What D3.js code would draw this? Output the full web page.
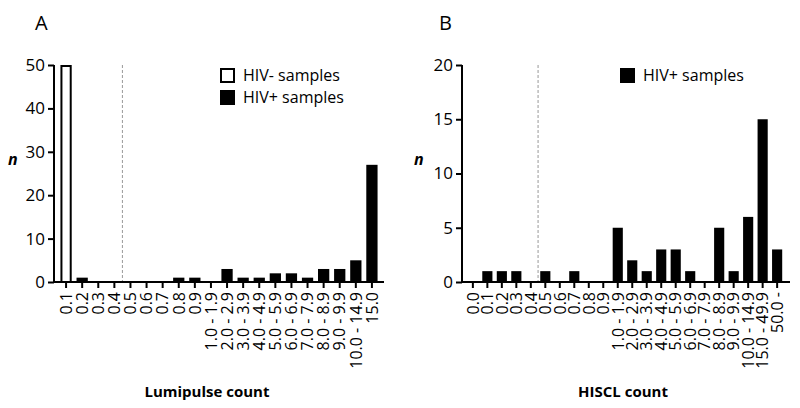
<!DOCTYPE html>
<html>
<head>
<meta charset="utf-8">
<script src="https://cdn.jsdelivr.net/npm/d3@7/dist/d3.min.js"></script>
<style>
  html, body { margin: 0; padding: 0; background: #fff; }
  svg { display: block; font-family: "Open Sans", sans-serif; }
  .tick text { white-space: pre; }
</style>
</head>
<body>
<svg id="chart" width="800" height="408"></svg>
<script>
// ---- Data ----
const catsA = ["0.1","0.2","0.3","0.4","0.5","0.6","0.7","0.8","0.9",
  "1.0 - 1.9","2.0 - 2.9","3.0 - 3.9","4.0 - 4.9","5.0 - 5.9","6.0 - 6.9",
  "7.0 - 7.9","8.0 - 8.9","9.0 - 9.9","10.0 - 14.9","15.0"];
const hivNegA = [50,0,0,0,0,0,0,0,0,0,0,0,0,0,0,0,0,0,0,0];
const hivPosA = [0,1,0,0,0,0,0,1,1,0,3,1,1,2,2,1,3,3,5,27];
const yTicksA = [0,10,20,30,40,50];

const catsB = ["0.0","0.1","0.2","0.3","0.4","0.5","0.6","0.7","0.8","0.9",
  "1.0 - 1.9","2.0 - 2.9","3.0 - 3.9","4.0 - 4.9","5.0 - 5.9","6.0 - 6.9",
  "7.0 - 7.9","8.0 - 8.9","9.0 - 9.9","10.0 - 14.9","15.0 - 49.9","50.0 -"];
const hivPosB = [0,1,1,1,0,1,0,1,0,0,5,2,1,3,3,1,0,5,1,6,15,3];
const yTicksB = [0,5,10,15,20];

const svg = d3.select("#chart");

function panel(opts) {
  const g = svg.append("g");
  const x = d3.scaleBand().domain(opts.cats).range(opts.xRange)
    .paddingInner(opts.pi).paddingOuter(opts.po);
  const y = d3.scaleLinear().domain([0, opts.yMax]).range([282, 65]);

  // dashed cutoff line between categories
  const c1 = x(opts.cutBetween[0]) + x.bandwidth()/2;
  const c2 = x(opts.cutBetween[1]) + x.bandwidth()/2;
  g.append("line")
    .attr("x1", (c1+c2)/2).attr("x2", (c1+c2)/2)
    .attr("y1", y(opts.yMax)).attr("y2", y(0))
    .attr("stroke", "#999").attr("stroke-width", 1)
    .attr("stroke-dasharray", "3,2");

  // bars
  opts.series.forEach(s => {
    const data = opts.cats.map((c, i) => ({c, v: s.values[i]})).filter(d => d.v > 0);
    g.selectAll(null).data(data).enter().append("rect")
      .attr("x", d => x(d.c) + (s.outline ? 1 : 0))
      .attr("width", x.bandwidth() - (s.outline ? 2 : 0))
      .attr("y", d => y(d.v) + (s.outline ? 1 : 0))
      .attr("height", d => y(0) - y(d.v) - (s.outline ? 1 : 0))
      .attr("fill", s.fill)
      .attr("stroke", s.outline ? "#000" : "none")
      .attr("stroke-width", s.outline ? 2 : 0);
  });

  // y axis
  const yAx = g.append("g").attr("transform", `translate(${opts.xRange[0]},0)`)
    .call(d3.axisLeft(y).tickValues(opts.yTicks).tickSize(6).tickSizeOuter(0).tickPadding(3));
  yAx.select(".domain").attr("stroke-width", 2).attr("d", `M0,${y(opts.yMax)}V${y(0)}`);
  yAx.selectAll(".tick line").attr("stroke-width", 2);
  yAx.selectAll(".tick text").attr("font-size", 17).attr("fill", "#000")
    .attr("font-family", "Open Sans, sans-serif");

  // x axis
  const xAx = g.append("g").attr("transform", `translate(0,${y(0)})`)
    .call(d3.axisBottom(x).tickSize(6).tickSizeOuter(0));
  xAx.select(".domain").attr("stroke-width", 2)
    .attr("d", `M${opts.xRange[0]-1},0H${opts.xEnd}`);
  xAx.selectAll(".tick line").attr("stroke-width", 2);
  xAx.selectAll(".tick text")
    .attr("font-size", 16).attr("fill", "#000")
    .attr("font-family", "Open Sans, sans-serif")
    .attr("text-anchor", "end")
    .attr("transform", "rotate(-90)")
    .attr("x", -10).attr("y", 0).attr("dy", "0.36em");

  // panel letter
  g.append("text").attr("x", opts.letterX).attr("y", 30)
    .attr("font-size", 20).text(opts.letter);
  // y label
  g.append("text").attr("x", opts.nX).attr("y", 165)
    .attr("font-size", 16).attr("font-weight", "bold").attr("font-style", "italic").text("n");
  // x title
  g.append("text").attr("x", opts.titleX).attr("y", 397)
    .attr("text-anchor", "middle").attr("font-size", 15).attr("font-weight", "bold")
    .text(opts.title);

  // legend
  opts.legend.forEach((l, i) => {
    const ly = 68 + i * 22;
    g.append("rect").attr("x", opts.legX + 1).attr("y", ly + 1)
      .attr("width", 13).attr("height", 13)
      .attr("fill", l.fill).attr("stroke", "#000").attr("stroke-width", 2);
    g.append("text").attr("x", opts.legX + 23).attr("y", ly + 13)
      .attr("font-size", 16).text(l.label);
  });
}

panel({
  cats: catsA, yMax: 50, yTicks: yTicksA, xRange: [54, 384], xEnd: 384, pi: 0.3, po: 0.4,
  cutBetween: ["0.4", "0.5"],
  series: [
    {values: hivNegA, fill: "#fff", outline: true},
    {values: hivPosA, fill: "#000", outline: false}
  ],
  letter: "A", letterX: 35, nX: 8, title: "Lumipulse count", titleX: 207,
  legX: 220,
  legend: [{label: "HIV- samples", fill: "#fff"}, {label: "HIV+ samples", fill: "#000"}]
});

panel({
  cats: catsB, yMax: 20, yTicks: yTicksB, xRange: [462, 788], xEnd: 790, pi: 0.3, po: 0.4,
  cutBetween: ["0.4", "0.5"],
  series: [{values: hivPosB, fill: "#000", outline: false}],
  letter: "B", letterX: 439, nX: 414, title: "HISCL count", titleX: 623,
  legX: 620,
  legend: [{label: "HIV+ samples", fill: "#000"}]
});
</script>
</body>
</html>
